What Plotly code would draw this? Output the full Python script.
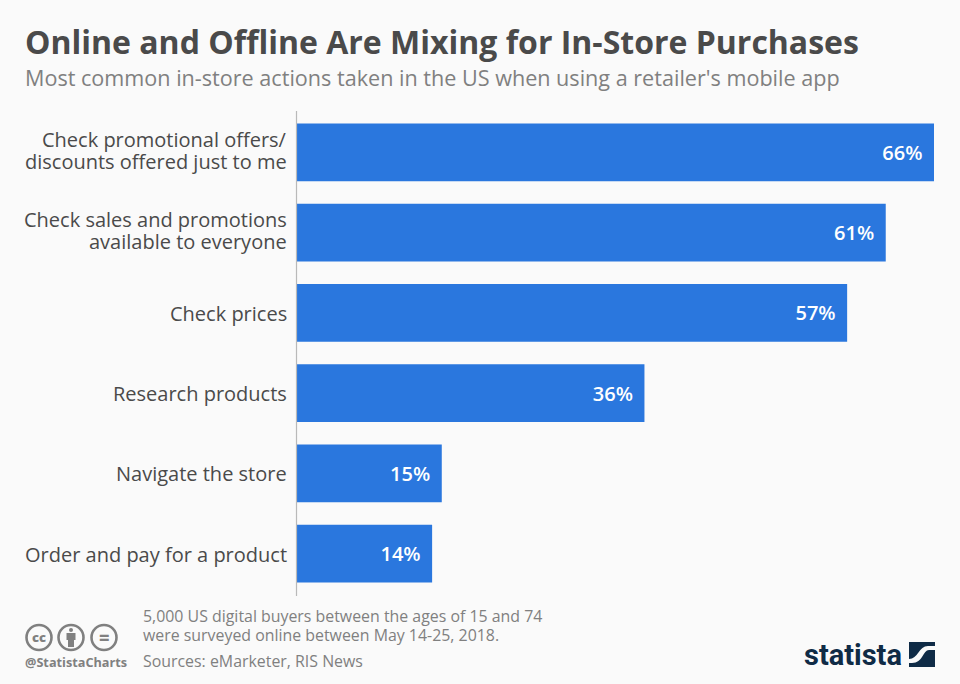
import plotly.graph_objects as go

category_lines = [["Check promotional offers/", "discounts offered just to me"],
                  ["Check sales and promotions", "available to everyone"],
                  ["Check prices"], ["Research products"], ["Navigate the store"],
                  ["Order and pay for a product"]]
categories = [" ".join(c) for c in category_lines]
values = [66, 61, 57, 36, 15, 14]

W, H = 960, 684
BG = "#fafafa"
FONT = "Open Sans"
NAVY = "#0f2b46"

def px(x): return x / W
def py(y): return 1 - y / H

fig = go.Figure(go.Bar(
    x=values, y=categories, orientation="h",
    marker=dict(color="#2a77de", line_width=0),
    text=[f"{v}%\u00a0\u2009" for v in values],
    textposition="inside", insidetextanchor="end", textangle=0, constraintext="none",
    textfont=dict(family=FONT, size=20, color="#ffffff", weight=600),
    hoverinfo="skip", cliponaxis=False,
))

def text(x, y, s, size, color, weight=400, anchor="left", family=FONT):
    fig.add_annotation(x=px(x), y=py(y), xref="paper", yref="paper", text=s, showarrow=False,
                       xanchor=anchor, yanchor="middle", align=anchor, borderpad=0,
                       font=dict(family=family, size=size, color=color, weight=weight))

# category labels, one annotation per line for the tight line spacing
for cat, lines in zip(categories, category_lines):
    n = len(lines)
    for i, line in enumerate(lines):
        fig.add_annotation(x=0, y=cat, xref="x", yref="y", text=line, showarrow=False,
                           xanchor="right", yanchor="middle", xshift=-8,
                           yshift=((n - 1) * 13 - i * 22) if n > 1 else -0.5,
                           font=dict(family=FONT, size=20, color="#4a4a4a"))

text(24, 42, "Online and Offline Are Mixing for In-Store Purchases", 32, "#4a4a4a", 700)
text(24, 77.5, "Most common in-store actions taken in the US when using a retailer's mobile app", 21.6, "#808080")
text(142, 616, "5,000 US digital buyers between the ages of 15 and 74", 15.9, "#808080")
text(142, 635, "were surveyed online between May 14-25, 2018.", 15.9, "#808080")
text(142, 661, "Sources: eMarketer, RIS News", 15.9, "#808080")
text(24, 662, "@StatistaCharts", 12.7, "#808080", 700)
text(39, 637, "cc", 13, "#808080", 800, "center")
text(104, 636.5, "=", 18, "#808080", 800, "center")
text(803, 655, "statista", 29, NAVY, 700, family="Roboto")

def pth(points):
    return " ".join(f"{c}{px(x):.5f},{py(y):.5f}" for c, x, y in points)

shapes = []
for cx in (39, 71, 104):
    shapes.append(dict(type="circle", xref="paper", yref="paper",
                       x0=px(cx - 12.5), x1=px(cx + 12.5), y0=py(650), y1=py(625),
                       line=dict(color="#808080", width=2.6), fillcolor="rgba(0,0,0,0)"))
# person glyph in the middle icon
shapes.append(dict(type="circle", xref="paper", yref="paper", x0=px(69), x1=px(73),
                   y0=py(632), y1=py(628), fillcolor="#808080", line_width=0))
shapes.append(dict(type="path", xref="paper", yref="paper", fillcolor="#808080", line_width=0,
                   path=pth([("M", 66.5, 633), ("L", 75.5, 633), ("L", 75.5, 640), ("L", 74, 640),
                             ("L", 74, 647), ("L", 68, 647), ("L", 68, 640), ("L", 66.5, 640)]) + " Z"))
# logo square with the S-curve
shapes.append(dict(type="rect", xref="paper", yref="paper", x0=px(909), x1=px(935),
                   y0=py(667), y1=py(642), fillcolor=NAVY, line_width=0))
def bez(x1, y1, x2, y2, x3, y3):
    return f"C{px(x1):.5f},{py(y1):.5f} {px(x2):.5f},{py(y2):.5f} {px(x3):.5f},{py(y3):.5f}"
s_path = (f"M{px(909):.5f},{py(659):.5f} "
          + bez(918, 659, 919, 646, 928, 646)
          + f" L{px(935):.5f},{py(646):.5f} L{px(935):.5f},{py(650):.5f} L{px(929):.5f},{py(650):.5f} "
          + bez(923, 650, 923, 663, 912, 663)
          + f" L{px(909):.5f},{py(663):.5f} Z")
shapes.append(dict(type="path", xref="paper", yref="paper", fillcolor=BG, line_width=0, path=s_path))

fig.update_layout(
    width=W, height=H, autosize=False,
    paper_bgcolor=BG, plot_bgcolor=BG,
    margin=dict(l=0, r=0, t=0, b=0),
    showlegend=False, bargap=0.28, shapes=shapes,
    font=dict(family=FONT),
    xaxis=dict(domain=[px(297), px(934)], range=[0, 66], visible=False, fixedrange=True),
    yaxis=dict(domain=[py(593.8), py(112.2)], autorange="reversed", showgrid=False, zeroline=False,
               ticks="", showticklabels=False, fixedrange=True),
)
fig.add_shape(type="line", xref="paper", yref="paper", x0=px(296.5), x1=px(296.5), y0=py(596), y1=py(111),
              line=dict(color="#b9b9b9", width=1.2))
fig.write_html("out.html", config=dict(displayModeBar=False),
               post_script="document.body.style.margin='0';document.body.style.background='#fafafa';document.documentElement.style.overflow='hidden';")
